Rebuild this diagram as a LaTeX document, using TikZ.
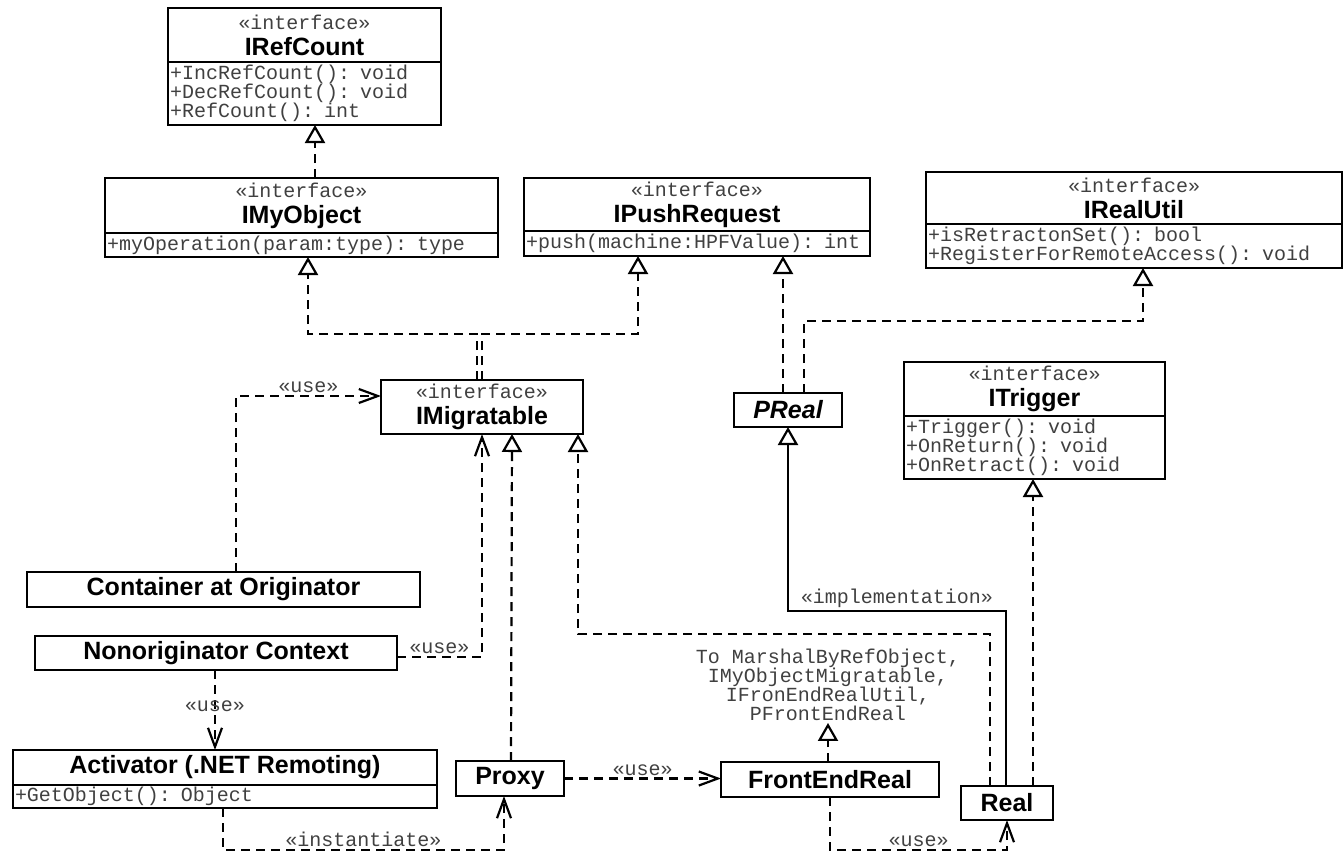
\documentclass[tikz,border=0pt]{standalone}
\usepackage{fontspec}
\usepackage{tikz}
\usetikzlibrary{positioning}
\usetikzlibrary{arrows.meta}
\newfontfamily\umlsans{Liberation Sans}
\newfontfamily\umlmono{Liberation Mono}
\newcommand{\umlname}{\umlsans\bfseries\fontsize{12.5}{13}\selectfont}
\newcommand{\umlop}{\umlmono\fontsize{10}{9.5}\selectfont}
\newcommand{\umlnote}{\umlmono\fontsize{10}{9.4}\selectfont}
\newcommand{\umlster}{\umlmono\mdseries\fontsize{10}{13}\selectfont\color{black!75}}

\begin{document}
\begin{tikzpicture}[x=0.5pt,y=-0.5pt,
    head/.style={draw,line width=1.2pt,outer sep=0pt,inner sep=0pt,font=\umlname,align=center,anchor=north},
    body/.style={draw,line width=1.2pt,outer sep=0pt,inner xsep=1pt,inner ysep=0pt,font=\umlop,text=black!75,align=left},
    lbl/.style={font=\umlop,text=black!75,inner sep=1pt},
    realize/.style={line width=1.1pt,dash pattern=on 4.5pt off 3pt,-{Triangle[open,length=9pt,width=10pt]}},
    implem/.style={line width=1.1pt,-{Triangle[open,length=9pt,width=10pt]}},
    usedep/.style={line width=1.1pt,dash pattern=on 4.5pt off 3pt,-{Straight Barb[length=9.5pt,width=7pt]}}]
\useasboundingbox (0,0) rectangle (1344,853);

\node[head,minimum width=136.5pt,minimum height=27pt] (irefh) at (304.5,8) {{\umlster «interface»}\\IRefCount};
\node[body,text width=134.5pt,minimum height=31.5pt,below=0pt of irefh] (irefb) {+IncRefCount(): void\\+DecRefCount(): void\\+RefCount(): int};
\node[head,minimum width=196.5pt,minimum height=27.5pt] (imyobjh) at (301.5,178) {{\umlster «interface»}\\IMyObject};
\node[body,text width=194.5pt,minimum height=12pt,below=0pt of imyobjh] (imyobjb) {+myOperation(param:type): type};
\node[head,minimum width=173pt,minimum height=26.5pt] (ipushh) at (697,178) {{\umlster «interface»}\\IPushRequest};
\node[body,text width=171pt,minimum height=12.5pt,below=0pt of ipushh] (ipushb) {+push(machine:HPFValue): int};
\node[head,minimum width=208pt,minimum height=26pt] (iutilh) at (1134,172) {{\umlster «interface»}\\IRealUtil};
\node[body,text width=206pt,minimum height=22pt,below=0pt of iutilh] (iutilb) {+isRetractonSet(): bool\\+RegisterForRemoteAccess(): void};
\node[head,minimum width=101pt,minimum height=27pt] (imig) at (482,380) {{\umlster «interface»}\\IMigratable};
\node[head,minimum width=54pt,minimum height=17pt] (preal) at (788,393) {\itshape PReal};
\node[head,minimum width=130.5pt,minimum height=27pt] (itrigh) at (1034.5,362) {{\umlster «interface»}\\ITrigger};
\node[body,text width=128.5pt,minimum height=31.5pt,below=0pt of itrigh] (itrigb) {+Trigger(): void\\+OnReturn(): void\\+OnRetract(): void};
\node[head,minimum width=196.5pt,minimum height=17.5pt] (container) at (223.5,572) {Container at Originator};
\node[head,minimum width=181pt,minimum height=17pt] (nonorig) at (216,636) {Nonoriginator Context};
\node[head,minimum width=212pt,minimum height=17.5pt] (activh) at (225,750) {Activator (.NET Remoting)};
\node[body,text width=210pt,minimum height=11.5pt,below=0pt of activh] (activb) {+GetObject(): Object};
\node[head,minimum width=54pt,minimum height=17.5pt] (proxy) at (510,761) {Proxy};
\node[head,minimum width=109pt,minimum height=17.5pt] (frontend) at (830,762) {FrontEndReal};
\node[head,minimum width=46pt,minimum height=17pt] (real) at (1007,786) {Real};
\node[lbl,align=center,font=\umlnote] (note) at (828,685) {To MarshalByRefObject,\\IMyObjectMigratable,\\IFronEndRealUtil,\\PFrontEndReal};

\draw[realize] ([xshift=6.75pt]imyobjh.north) -- ([xshift=5.25pt]irefb.south);
\draw[realize] ([xshift=-2.5pt]imig.north) -- ++(0,-46) -| ([xshift=3.25pt]imyobjb.south);
\draw[realize] (imig.north) -- ++(0,-46) -| ([xshift=-29.5pt]ipushb.south);
\draw[realize] ([xshift=-2.5pt]preal.north) -- ([xshift=43pt]ipushb.south);
\draw[realize] ([xshift=8pt]preal.north) -- ++(0,-72) -| ([xshift=4.5pt]iutilb.south);
\draw[usedep] ([xshift=6.25pt]container.north) |- node[lbl,above,pos=0.75]{«use»} ([yshift=5.5pt]imig.west);
\draw[usedep] ([yshift=-2pt]nonorig.east) -| node[lbl,above,pos=0.25]{«use»} (imig.south);
\draw[usedep] ([xshift=-0.5pt]nonorig.south) -- node[lbl,pos=0.45]{«use»} ([xshift=-5pt]activh.north);
\draw[usedep] ([xshift=-1pt]activb.south) -- ++(0,42) -| node[lbl,above,pos=0.25]{«instantiate»} ([xshift=-3pt]proxy.south);
\draw[realize] ([xshift=0.5pt]proxy.north) -- ([xshift=15pt]imig.south);
\draw[usedep] (proxy.east) -- node[lbl,above]{«use»} (proxy.east -| frontend.west);
\draw[realize] ([xshift=-1pt]frontend.north) -- (note.south);
\draw[usedep] (frontend.south) -- ++(0,53) -| node[lbl,above,pos=0.25]{«use»} (real.south);
\draw[implem] ([xshift=-0.5pt]real.north) -- ++(0,-175) -| node[lbl,above,pos=0.25]{«implementation»} (preal.south);
\draw[realize] ([xshift=-8.5pt]real.north) -- ++(0,-152) -| ([xshift=48pt]imig.south);
\draw[realize] ([xshift=13pt]real.north) -- ([xshift=-0.75pt]itrigb.south);
\end{tikzpicture}
\end{document}
